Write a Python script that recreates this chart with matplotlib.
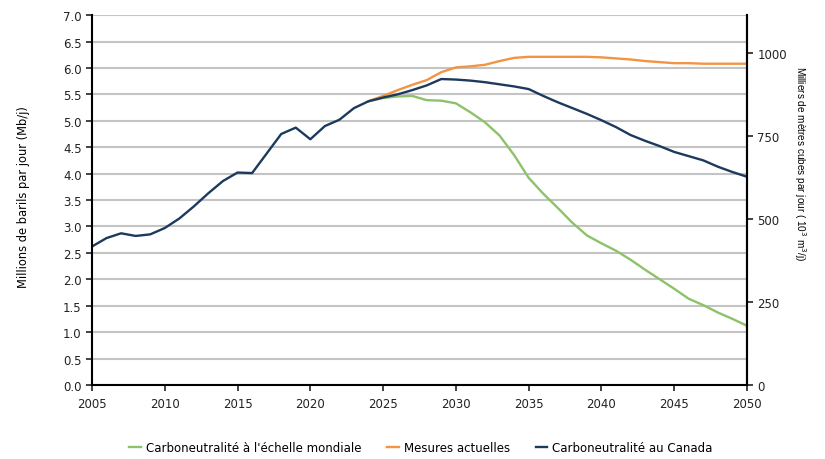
import matplotlib.pyplot as plt
import numpy as np

years = np.arange(2005, 2051)
proj_years = np.arange(2024, 2051)

# Carboneutralité au Canada (Mb/j)
canada = [2.62, 2.78, 2.87, 2.82, 2.85, 2.97, 3.15, 3.38, 3.63, 3.86,
          4.02, 4.01, 4.38, 4.75, 4.87, 4.65, 4.90, 5.02, 5.24, 5.37,
          5.44, 5.50, 5.58, 5.67, 5.79, 5.78, 5.76, 5.73, 5.69, 5.65,
          5.60, 5.47, 5.35, 5.24, 5.13, 5.01, 4.88, 4.73, 4.62, 4.52,
          4.41, 4.33, 4.25, 4.13, 4.03, 3.94]

# Mesures actuelles (Mb/j), 2024-2050
actuelles = [5.37, 5.47, 5.58, 5.68, 5.77, 5.92, 6.01, 6.03, 6.06, 6.13,
             6.19, 6.21, 6.21, 6.21, 6.21, 6.21, 6.20, 6.18, 6.16, 6.13,
             6.11, 6.09, 6.09, 6.08, 6.08, 6.08, 6.08]

# Carboneutralité à l'échelle mondiale (Mb/j), 2024-2050
mondiale = [5.37, 5.43, 5.46, 5.47, 5.39, 5.38, 5.33, 5.16, 4.97, 4.72,
            4.35, 3.92, 3.62, 3.35, 3.07, 2.83, 2.68, 2.54, 2.37, 2.18,
            2.00, 1.82, 1.63, 1.51, 1.37, 1.25, 1.12]

M3_PER_BBL = 158.987  # milliers de m3/j pour 1 Mb/j

fig = plt.figure(figsize=(8.25, 4.6), dpi=100)
ax = fig.add_axes([0.1115, 0.161, 0.794, 0.804])

ax.plot(proj_years, mondiale, color="#8dc26a", lw=1.7,
        label="Carboneutralité à l'échelle mondiale")
ax.plot(proj_years, actuelles, color="#f29444", lw=1.7,
        label="Mesures actuelles")
ax.plot(years, canada, color="#1c3a5e", lw=1.7,
        label="Carboneutralité au Canada")

ax.set_xlim(2005, 2050)
ax.set_ylim(0, 7)
ax.set_xticks(np.arange(2005, 2051, 5))
ax.set_yticks(np.arange(0, 7.01, 0.5))
ax.set_yticklabels([f"{v:.1f}" for v in np.arange(0, 7.01, 0.5)])
ax.yaxis.grid(True, color="#c4c4c4", lw=1.5)
ax.set_axisbelow(True)
for side in ["left", "bottom", "right"]:
    ax.spines[side].set_linewidth(1.5)
ax.spines["top"].set_visible(False)
ax.tick_params(labelsize=8.5, width=1.2, length=4, colors="#222222")
ax.tick_params(axis="x", pad=5)
ax.set_ylabel("Millions de barils par jour (Mb/j)", fontsize=8.3)
ax.yaxis.set_label_coords(-0.095, 0.51)

ax2 = ax.twinx()
ax2.set_ylim(0, 7 * M3_PER_BBL)
ax2.set_yticks([0, 250, 500, 750, 1000])
ax2.spines["right"].set_linewidth(1.5)
ax2.spines["top"].set_visible(False)
ax2.spines["left"].set_visible(False)
ax2.spines["bottom"].set_visible(False)
ax2.tick_params(labelsize=8.5, width=1.2, length=4, colors="#222222")
ax2.set_ylabel("Milliers de mètres cubes par jour ( 10$^3$ m$^3$/j)",
               fontsize=7.2, family="Liberation Sans", rotation=270)
ax2.yaxis.set_label_coords(1.093, 0.6)

fig.legend(loc="lower center", bbox_to_anchor=(0.51, -0.012), ncol=3,
           frameon=False, fontsize=8.5, handlelength=1.0,
           handletextpad=0.4, columnspacing=2.2)

fig.savefig("out.png", dpi=100)
